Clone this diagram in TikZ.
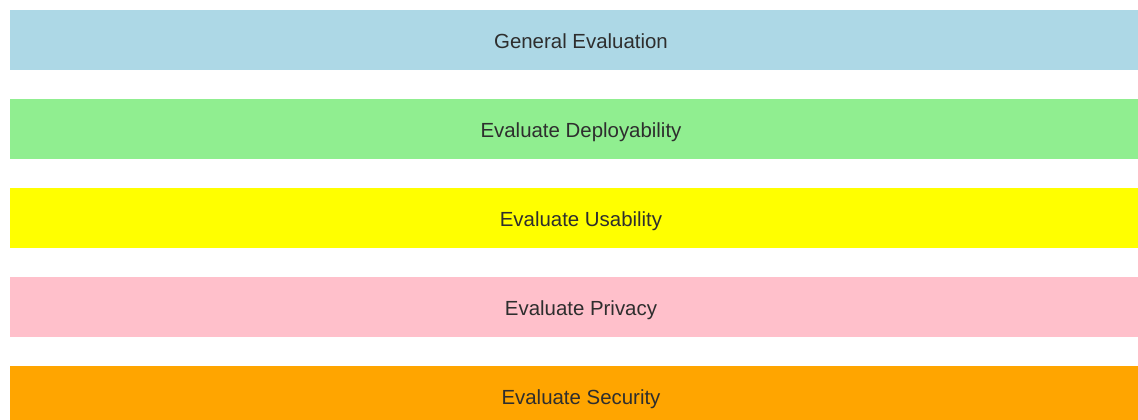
\documentclass[tikz,border=0pt]{standalone}
\usepackage{fontspec}
\setmainfont{Liberation Sans}
\usetikzlibrary{positioning}
\definecolor{barblue}{HTML}{ADD8E6}
\definecolor{bargreen}{HTML}{90EE90}
\definecolor{baryellow}{HTML}{FFFF00}
\definecolor{barpink}{HTML}{FFC0CB}
\definecolor{barorange}{HTML}{FFA500}
\definecolor{bartext}{HTML}{2E2E2E}
\begin{document}
\begin{tikzpicture}[x=1bp, y=1bp, node distance=29bp,
    evalbar/.style={rectangle, minimum width=1142bp, minimum height=60bp,
        inner sep=0pt, outer sep=0pt, text=bartext,
        text height=17bp, text depth=0.4bp,
        font=\fontsize{20.5}{23}\selectfont}]
        \useasboundingbox (0,0) rectangle (1138,419);
        % Bewertungsstufen
        \node[evalbar, fill=barblue] (general) at (581,379) {General Evaluation};
        \node[evalbar, fill=bargreen, below=of general] (deploy) {Evaluate Deployability};
        \node[evalbar, fill=baryellow, below=of deploy] (usability) {Evaluate Usability};
        \node[evalbar, fill=barpink, below=of usability] (privacy) {Evaluate Privacy};
        \node[evalbar, fill=barorange, below=of privacy] (security) {Evaluate Security};
    \end{tikzpicture}
\end{document}
